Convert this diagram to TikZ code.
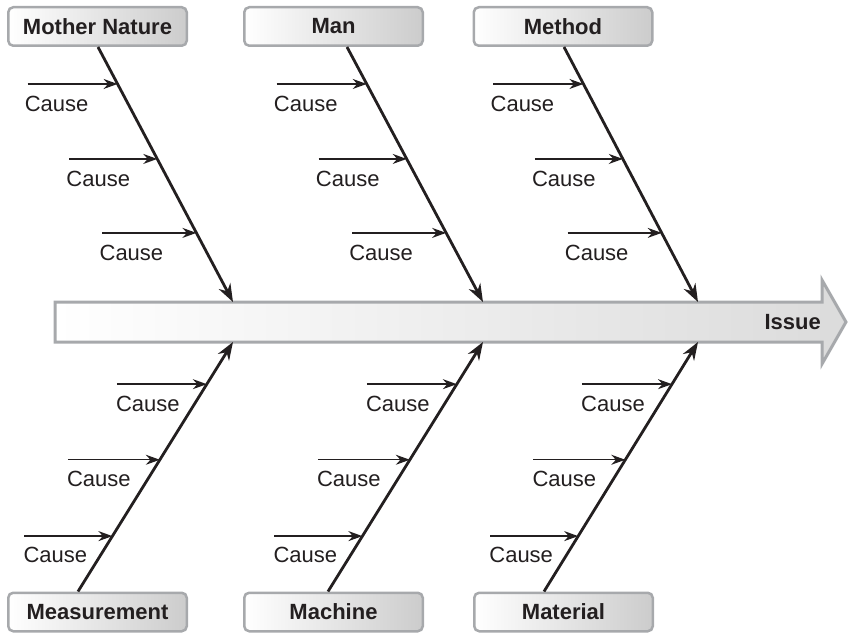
\documentclass[tikz,border=0pt]{standalone}
\usepackage{fontspec}
\setmainfont{Liberation Sans}
\usetikzlibrary{arrows.meta, calc}
\definecolor{ink}{RGB}{35,31,32}
\definecolor{rim}{RGB}{167,169,172}
\tikzstyle{category} = [rectangle, rounded corners=5pt, draw=rim, line width=2.5pt, left color=white, right color=black!20, minimum width=178.5pt, minimum height=38.5pt, inner sep=0pt, text=ink, font=\fontsize{22}{26}\selectfont\bfseries]
\tikzstyle{spine} = [draw=rim, line width=3pt, left color=white, right color=black!14]
\tikzstyle{bone} = [ink, line width=2.8pt, -{Stealth[length=18pt,width=13pt]}]
\tikzstyle{cause} = [ink, line width=1.4pt, -{Stealth[length=14pt,width=10pt]}]
\tikzstyle{causetext} = [anchor=base west, inner sep=0pt, text=ink, font=\fontsize{22}{26}\selectfont]

\begin{document}
\begin{tikzpicture}[x=1pt, y=-1pt]
    \useasboundingbox (0,0) rectangle (849,634);

    % Spine
    \draw [spine] (55,302) -- (822,302) -- (822,280) -- (846,322) -- (822,364) -- (822,342) -- (55,342) -- cycle;
    \node (issue) [anchor=east, inner sep=0pt, text=ink, font=\fontsize{22}{26}\selectfont\bfseries] at (821,322) {Issue};
    \coordinate (tip_a_top) at (233,302);
    \coordinate (tip_b_top) at (483,302);
    \coordinate (tip_c_top) at (698,302);
    \coordinate (tip_a_bottom) at (233,342);
    \coordinate (tip_b_bottom) at (483,342);
    \coordinate (tip_c_bottom) at (698,342);

    % Categories
    \node (mother_nature) [category] at (97.5,26.5) {Mother Nature};
    \node (man) [category] at (333.5,26.5) {Man};
    \node (method) [category] at (563,26.5) {Method};
    \node (measurement) [category] at (97.5,612) {Measurement};
    \node (machine) [category] at (333.5,612) {Machine};
    \node (material) [category] at (563.5,612) {Material};

    % ==== Bones
    \draw [bone] ([xshift=0.5pt]mother_nature.south) -- (tip_a_top);
    \draw [bone] ([xshift=13.5pt]man.south) -- (tip_b_top);
    \draw [bone] ([xshift=1pt]method.south) -- (tip_c_top);
    \draw [bone] ([xshift=-19.5pt]measurement.north) -- (tip_a_bottom);
    \draw [bone] ([xshift=-5.5pt]machine.north) -- (tip_b_bottom);
    \draw [bone] ([xshift=-19.5pt]material.north) -- (tip_c_bottom);

    % ==== Causes
    % Mother Nature
    \coordinate (mn_1) at ($([xshift=0.5pt]mother_nature.south)!0.145!(tip_a_top)$);
    \coordinate (mn_2) at ($([xshift=0.5pt]mother_nature.south)!0.439!(tip_a_top)$);
    \coordinate (mn_3) at ($([xshift=0.5pt]mother_nature.south)!0.729!(tip_a_top)$);
    \draw [cause] ([xshift=-90pt]mn_1) -- (mn_1);
    \draw [cause] ([xshift=-88pt]mn_2) -- (mn_2);
    \draw [cause] ([xshift=-94pt]mn_3) -- (mn_3);
    \node (mn_1_text) [causetext] at ([xshift=-93pt, yshift=-28pt]mn_1) {Cause};
    \node (mn_2_text) [causetext] at ([xshift=-91pt, yshift=-28pt]mn_2) {Cause};
    \node (mn_3_text) [causetext] at ([xshift=-97pt, yshift=-28pt]mn_3) {Cause};

    % Man
    \coordinate (man_1) at ($([xshift=13.5pt]man.south)!0.145!(tip_b_top)$);
    \coordinate (man_2) at ($([xshift=13.5pt]man.south)!0.439!(tip_b_top)$);
    \coordinate (man_3) at ($([xshift=13.5pt]man.south)!0.729!(tip_b_top)$);
    \draw [cause] ([xshift=-90pt]man_1) -- (man_1);
    \draw [cause] ([xshift=-88pt]man_2) -- (man_2);
    \draw [cause] ([xshift=-94pt]man_3) -- (man_3);
    \node (man_1_text) [causetext] at ([xshift=-93pt, yshift=-28pt]man_1) {Cause};
    \node (man_2_text) [causetext] at ([xshift=-91pt, yshift=-28pt]man_2) {Cause};
    \node (man_3_text) [causetext] at ([xshift=-97pt, yshift=-28pt]man_3) {Cause};

    % Method
    \coordinate (me_1) at ($([xshift=1pt]method.south)!0.145!(tip_c_top)$);
    \coordinate (me_2) at ($([xshift=1pt]method.south)!0.439!(tip_c_top)$);
    \coordinate (me_3) at ($([xshift=1pt]method.south)!0.729!(tip_c_top)$);
    \draw [cause] ([xshift=-90pt]me_1) -- (me_1);
    \draw [cause] ([xshift=-88pt]me_2) -- (me_2);
    \draw [cause] ([xshift=-94pt]me_3) -- (me_3);
    \node (me_1_text) [causetext] at ([xshift=-93pt, yshift=-28pt]me_1) {Cause};
    \node (me_2_text) [causetext] at ([xshift=-91pt, yshift=-28pt]me_2) {Cause};
    \node (me_3_text) [causetext] at ([xshift=-97pt, yshift=-28pt]me_3) {Cause};

    % Measurement
    \coordinate (ms_1) at ($([xshift=-19.5pt]measurement.north)!0.831!(tip_a_bottom)$);
    \coordinate (ms_2) at ($([xshift=-19.5pt]measurement.north)!0.528!(tip_a_bottom)$);
    \coordinate (ms_3) at ($([xshift=-19.5pt]measurement.north)!0.222!(tip_a_bottom)$);
    \draw [cause] ([xshift=-90pt]ms_1) -- (ms_1);
    \draw [cause] ([xshift=-92pt]ms_2) -- (ms_2);
    \draw [cause] ([xshift=-88pt]ms_3) -- (ms_3);
    \node (ms_1_text) [causetext] at ([xshift=-91pt, yshift=-27pt]ms_1) {Cause};
    \node (ms_2_text) [causetext] at ([xshift=-93pt, yshift=-27pt]ms_2) {Cause};
    \node (ms_3_text) [causetext] at ([xshift=-89pt, yshift=-26pt]ms_3) {Cause};

    % Machine
    \coordinate (mc_1) at ($([xshift=-5.5pt]machine.north)!0.831!(tip_b_bottom)$);
    \coordinate (mc_2) at ($([xshift=-5.5pt]machine.north)!0.528!(tip_b_bottom)$);
    \coordinate (mc_3) at ($([xshift=-5.5pt]machine.north)!0.222!(tip_b_bottom)$);
    \draw [cause] ([xshift=-90pt]mc_1) -- (mc_1);
    \draw [cause] ([xshift=-92pt]mc_2) -- (mc_2);
    \draw [cause] ([xshift=-88pt]mc_3) -- (mc_3);
    \node (mc_1_text) [causetext] at ([xshift=-91pt, yshift=-27pt]mc_1) {Cause};
    \node (mc_2_text) [causetext] at ([xshift=-93pt, yshift=-27pt]mc_2) {Cause};
    \node (mc_3_text) [causetext] at ([xshift=-89pt, yshift=-26pt]mc_3) {Cause};

    % Material
    \coordinate (ma_1) at ($([xshift=-19.5pt]material.north)!0.831!(tip_c_bottom)$);
    \coordinate (ma_2) at ($([xshift=-19.5pt]material.north)!0.528!(tip_c_bottom)$);
    \coordinate (ma_3) at ($([xshift=-19.5pt]material.north)!0.222!(tip_c_bottom)$);
    \draw [cause] ([xshift=-90pt]ma_1) -- (ma_1);
    \draw [cause] ([xshift=-92pt]ma_2) -- (ma_2);
    \draw [cause] ([xshift=-88pt]ma_3) -- (ma_3);
    \node (ma_1_text) [causetext] at ([xshift=-91pt, yshift=-27pt]ma_1) {Cause};
    \node (ma_2_text) [causetext] at ([xshift=-93pt, yshift=-27pt]ma_2) {Cause};
    \node (ma_3_text) [causetext] at ([xshift=-89pt, yshift=-26pt]ma_3) {Cause};

\end{tikzpicture}
\end{document}
